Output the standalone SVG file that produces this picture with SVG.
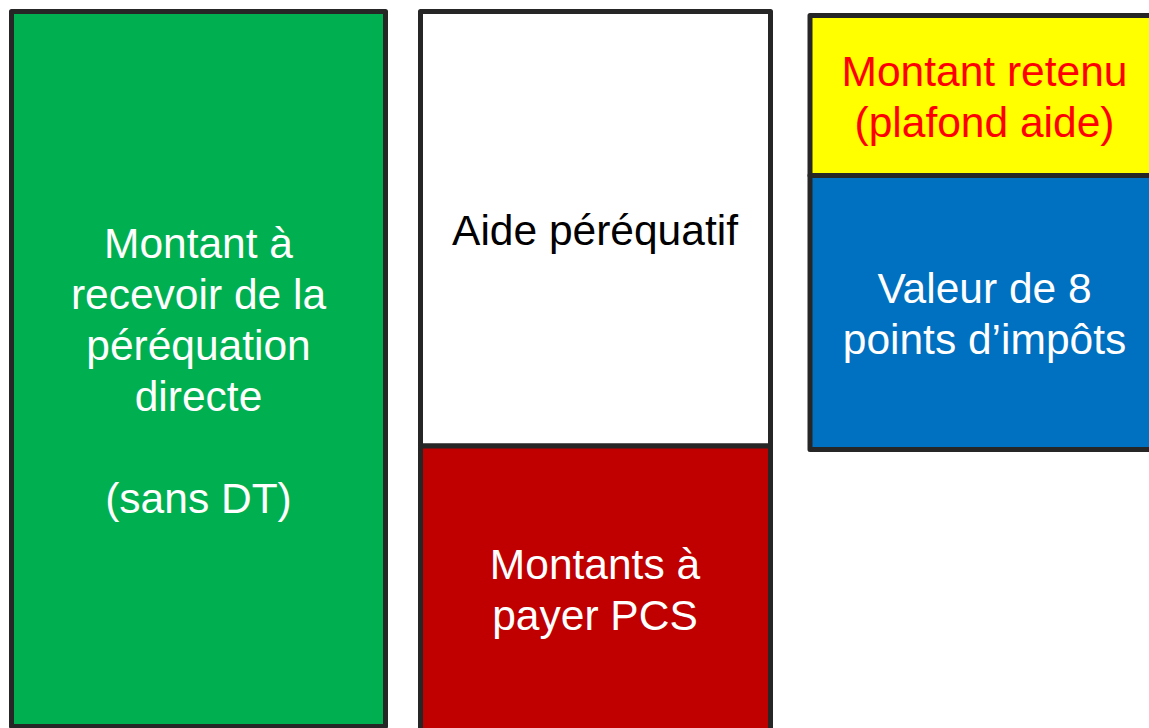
<svg xmlns="http://www.w3.org/2000/svg" width="1149" height="728" viewBox="0 0 1149 728">
<style>
.box{stroke:#262626;stroke-width:5;stroke-linejoin:round}
.t{font-family:"Liberation Sans",Arial,sans-serif;font-size:42.5px;text-anchor:middle}
.w{fill:#ffffff}
.k{fill:#000000}
.r{fill:#ff0000}
</style>
<rect width="1149" height="728" fill="#ffffff"/>
<g id="green">
<rect class="box" x="11.5" y="11.5" width="374" height="715" fill="#00b050"/>
<text class="t w" x="198.5"><tspan x="198.5" y="258">Montant à</tspan><tspan x="198.5" y="309">recevoir de la</tspan><tspan x="198.5" y="360">péréquation</tspan><tspan x="198.5" y="411">directe</tspan><tspan x="198.5" y="513">(sans DT)</tspan></text>
</g>
<g id="aide">
<rect class="box" x="420.5" y="11.5" width="350" height="434.5" fill="#ffffff"/>
<text class="t k" x="595" y="245">Aide péréquatif</text>
</g>
<g id="pcs">
<rect class="box" x="420.5" y="446" width="350" height="300" fill="#c00000"/>
<text class="t w"><tspan x="595" y="579">Montants à</tspan><tspan x="595" y="630">payer PCS</tspan></text>
</g>
<g id="plafond">
<rect class="box" x="810" y="15.5" width="360" height="160" fill="#ffff00"/>
<text class="t r"><tspan x="984.5" y="86">Montant retenu</tspan><tspan x="984.5" y="137">(plafond aide)</tspan></text>
</g>
<g id="points">
<rect class="box" x="810" y="175.5" width="360" height="274" fill="#0070c0"/>
<text class="t w"><tspan x="984.5" y="303">Valeur de 8</tspan><tspan x="984.5" y="354">points d’impôts</tspan></text>
</g>
<g id="connectors"/>
</svg>
